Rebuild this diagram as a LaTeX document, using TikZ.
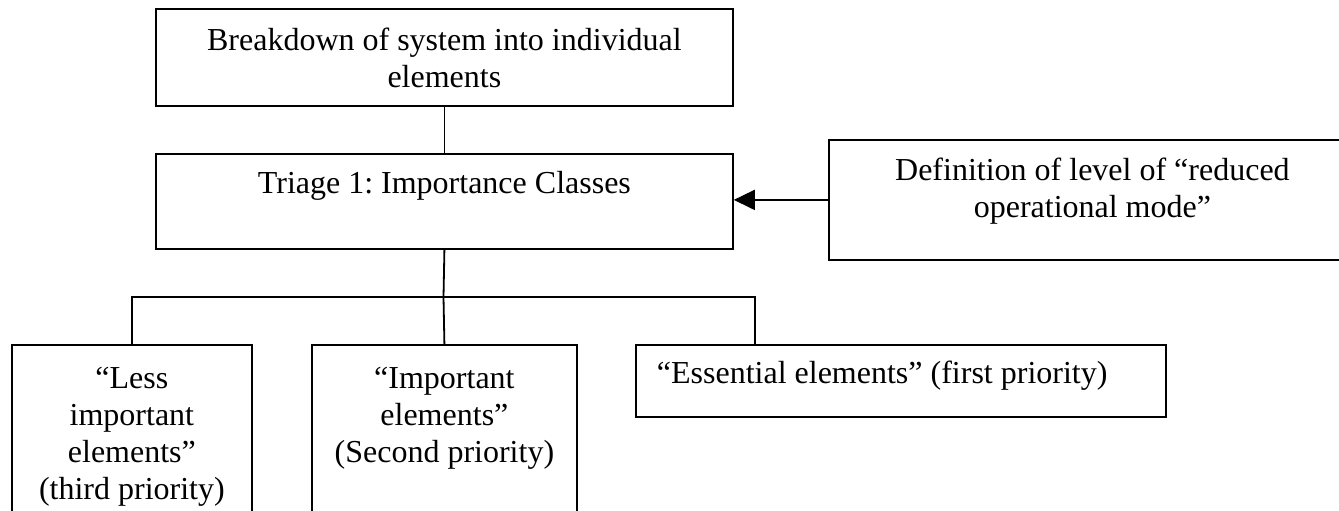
\documentclass[tikz,border=0pt]{standalone}
\usepackage{fontspec}
\setmainfont{Liberation Serif}
\usetikzlibrary{arrows.meta}
\frenchspacing
\newcommand\bxt[4]{\parbox[t][#2][t]{#1}{\centering\rule{0pt}{#3}#4\par}}
\begin{document}
\begin{tikzpicture}[x=1bp,y=-1bp,
  box/.style={draw=black,line width=1.8bp,inner sep=0pt,anchor=north west,
    font=\fontsize{32bp}{37bp}\selectfont},
  conn/.style={draw=black,line width=1.8bp}]
\fill[white] (0,0) rectangle (1339,511);
\useasboundingbox (0,0) rectangle (1339,511);
\node[box] (b1) at (155,8) {\bxt{577bp}{97bp}{42bp}{Breakdown of system into individual\\elements}};
\node[box] (b2) at (155,153) {\bxt{577bp}{95bp}{40bp}{Triage 1: Importance Classes}};
\node[box] (b3) at (828,139) {\bxt{527bp}{120bp}{41bp}{Definition of level of “reduced\\operational mode”}};
\node[box] (bL) at (11,344) {\bxt{240bp}{190bp}{44bp}{“Less\\important\\elements”\\(third priority)}};
\node[box] (bM) at (311,344) {\bxt{265bp}{190bp}{44bp}{“Important\\elements”\\(Second priority)}};
\node[box] (bE) at (635,344) {\parbox[t][72bp][t]{530bp}{\raggedright\hspace*{21bp}\rule{0pt}{39bp}“Essential elements” (first priority)\par}};
\coordinate (bus) at (443.5,297);
\draw[conn] (b1.south) -- (b2.north);
\draw[conn] (b2.south) -- (bus);
\draw[conn] (bus) -| (bL.north);
\draw[conn] (bus) -- (bM.north);
\draw[conn] (bus) -| ([xshift=120bp]bE.north west);
\draw[conn,-{Triangle[length=21bp,width=20bp]}] (b3.west) -- (b3.west -| b2.east);
\end{tikzpicture}
\end{document}
